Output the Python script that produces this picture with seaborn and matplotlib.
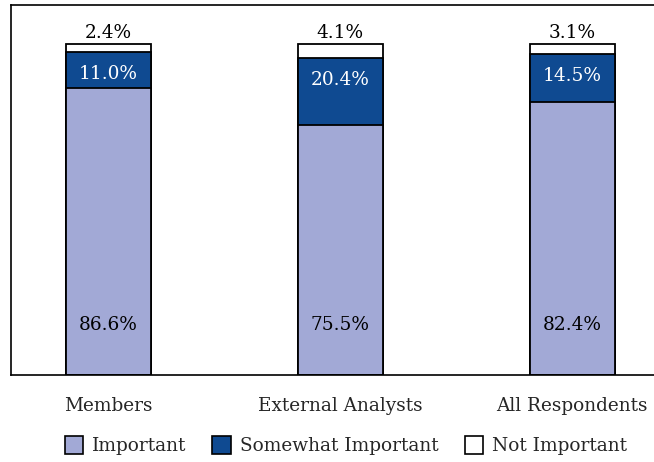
import pandas as pd
import matplotlib.pyplot as plt
import seaborn as sns

sns.set_theme(style="white")
plt.rcParams["font.family"] = ["DejaVu Serif"]

groups = ["Members", "External Analysts", "All Respondents"]
important = [86.6, 75.5, 82.4]
somewhat = [11.0, 20.4, 14.5]
not_important = [2.4, 4.1, 3.1]

c_light = "#a2a9d6"
c_dark = "#0f4a91"
fs = 13.3

df = pd.DataFrame({"group": groups, "imp": important,
                   "some": somewhat, "not": not_important})
df["cum_some"] = df["imp"] + df["some"]
df["total"] = df["cum_some"] + df["not"]

fig = plt.figure(figsize=(6.54, 4.62), dpi=100)
ax = fig.add_axes([11 / 654, 87 / 462, 1 - 11 / 654, 370 / 462])

# stacked look: draw cumulative totals back to front
bar_kw = dict(width=0.366, edgecolor="black", linewidth=1.3, ax=ax)
sns.barplot(data=df, x="group", y="total", color="white", **bar_kw)
sns.barplot(data=df, x="group", y="cum_some", color=c_dark, saturation=1, **bar_kw)
sns.barplot(data=df, x="group", y="imp", color=c_light, saturation=1, **bar_kw)

for i, row in df.iterrows():
    ax.text(i, 15.1, f"{row['imp']:.1f}%", ha="center", va="center",
            fontsize=fs, color="black")
    ax.text(i, row["cum_some"] - 6.7, f"{row['some']:.1f}%", ha="center",
            va="center", fontsize=fs, color="white")
    ax.text(i, row["total"] + 0.6, f"{row['not']:.1f}%", ha="center",
            va="bottom", fontsize=fs, color="black")

ax.set_xlim(-0.42, 2.352)
ax.set_ylim(0, 111.8)
ax.set_xlabel("")
ax.set_ylabel("")
ax.set_yticks([])
ax.tick_params(axis="x", length=0, pad=16, labelsize=fs)
for s in ["left", "top", "bottom"]:
    ax.spines[s].set_color("black")
    ax.spines[s].set_linewidth(1.2)
ax.spines["right"].set_visible(False)

handles = [plt.Rectangle((0, 0), 1, 1, facecolor=c, edgecolor="black", linewidth=1.2)
           for c in [c_light, c_dark, "white"]]
fig.legend(handles, ["Important", "Somewhat Important", "Not Important"],
           loc="center", bbox_to_anchor=(0.529, 0.035), ncol=3, frameon=False,
           fontsize=fs, handlelength=1.0, handleheight=1.1,
           handletextpad=0.5, columnspacing=1.4)

fig.savefig("out.png", dpi=100)
